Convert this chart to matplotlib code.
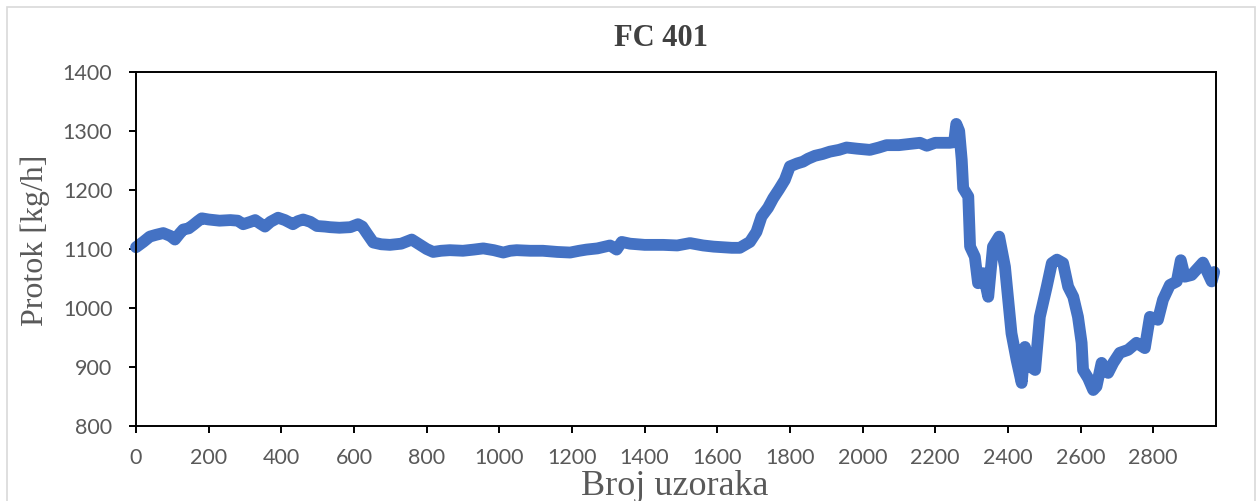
import matplotlib.pyplot as plt
from matplotlib.patches import Rectangle

# broj uzorka i protok (ocitano sa slike)
uzorak = [0, 20, 38, 55, 75, 95, 107, 120, 130, 145, 158, 170, 181, 200, 230, 260, 280,
          295, 315, 328, 342, 355, 370, 391, 410, 432, 445, 460, 480, 498, 520, 534, 560,
          590, 611, 623, 635, 653, 675, 699, 730, 759, 782, 800, 818, 840, 864, 900, 930,
          956, 985, 1011, 1030, 1048, 1085, 1120, 1160, 1195, 1220, 1240, 1270, 1305, 1323,
          1337, 1360, 1400, 1451, 1490, 1525, 1561, 1590, 1616, 1640, 1662, 1690, 1708,
          1722, 1740, 1754, 1770, 1786, 1800, 1820, 1836, 1850, 1869, 1890, 1910, 1935,
          1956, 1985, 2020, 2045, 2066, 2100, 2130, 2158, 2177, 2200, 2240, 2252, 2258,
          2266, 2273, 2277, 2291, 2296, 2309, 2318, 2332, 2346, 2359, 2376, 2392, 2410,
          2424, 2438, 2447, 2461, 2475, 2488, 2507, 2521, 2535, 2552, 2566, 2580, 2593,
          2603, 2607, 2621, 2635, 2644, 2658, 2676, 2690, 2708, 2731, 2754, 2777, 2791,
          2813, 2827, 2846, 2865, 2876, 2887, 2906, 2937, 2961, 2968]
protok = [1103, 1112, 1121, 1124, 1127, 1122, 1116, 1126, 1133, 1135, 1141, 1147, 1152,
          1150, 1148, 1149, 1148, 1142, 1146, 1149, 1143, 1138, 1146, 1153, 1149, 1142,
          1147, 1150, 1146, 1139, 1138, 1137, 1136, 1137, 1142, 1138, 1127, 1111, 1108,
          1107, 1109, 1116, 1107, 1100, 1095, 1097, 1098, 1097, 1099, 1101, 1098, 1094,
          1097, 1098, 1097, 1097, 1095, 1094, 1097, 1099, 1101, 1106, 1099, 1112, 1109,
          1107, 1107, 1106, 1110, 1106, 1104, 1103, 1102, 1102, 1112, 1129, 1155, 1170,
          1186, 1201, 1217, 1240, 1245, 1248, 1253, 1258, 1261, 1265, 1268, 1272, 1270,
          1268, 1272, 1276, 1276, 1278, 1280, 1275, 1280, 1280, 1281, 1312, 1300, 1251,
          1203, 1189, 1104, 1087, 1042, 1059, 1019, 1104, 1121, 1070, 957, 912, 873, 934,
          901, 895, 985, 1036, 1076, 1082, 1076, 1036, 1019, 985, 941, 895, 881, 861, 867,
          907, 890, 907, 924, 929, 941, 932, 985, 980, 1014, 1039, 1045, 1081, 1053, 1056,
          1077, 1045, 1061]

xticks = list(range(0, 2801, 200))
yticks = list(range(800, 1401, 100))

siva = '#595959'
tick_font = ['Lato', 'DejaVu Sans']
serif = ['Liberation Serif', 'DejaVu Serif']

fig = plt.figure(figsize=(12.57, 5.01), dpi=100)
fig.patches.append(Rectangle((7 / 1257, -0.05), 1248 / 1257, 1.05 - 7 / 501,
                             transform=fig.transFigure, fill=False,
                             edgecolor='#d9d9d9', linewidth=1.2))
ax = fig.add_axes([0.1082, 0.1497, 0.8592, 0.7066])

ax.plot(uzorak, protok, color='#4472C4', linewidth=8.5,
        solid_capstyle='round', solid_joinstyle='round', clip_on=False)

ax.set_xlim(0, 2973)
ax.set_ylim(800, 1400)
ax.set_xticks(xticks)
ax.set_yticks(yticks)
for s in ax.spines.values():
    s.set_linewidth(1.4)
    s.set_color('black')
ax.tick_params(direction='out', length=5, width=1.4, color='black',
               labelcolor=siva, labelsize=15.5)
ax.tick_params(axis='y', pad=12)
ax.tick_params(axis='x', pad=11)
for lab in ax.get_xticklabels() + ax.get_yticklabels():
    lab.set_family(tick_font)

fig.text(0.5255, 0.924, 'FC 401', ha='center', va='center', fontsize=22,
         fontweight='bold', family=serif, color='#404040')
fig.text(0.028, 0.521, 'Protok [kg/h]', ha='center', va='center', rotation=90,
         fontsize=23, family=serif, color=siva)
fig.text(0.537, 0.028, 'Broj uzoraka', ha='center', va='center',
         fontsize=26, family=serif, color=siva)

fig.savefig('out.png', dpi=100)
